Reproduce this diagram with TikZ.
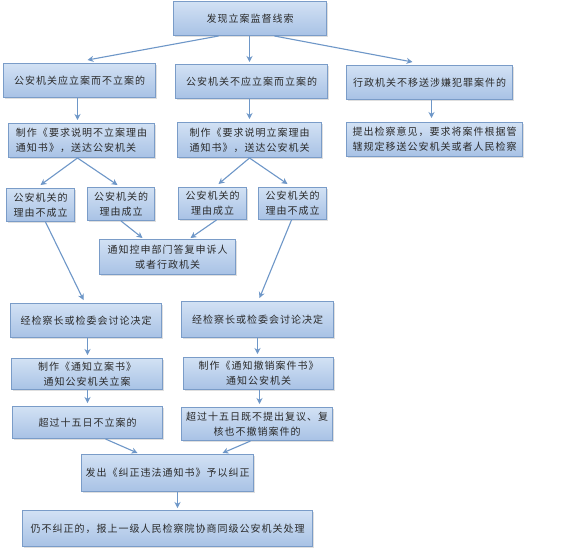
\documentclass[tikz,border=0pt]{standalone}
\usepackage{fontspec}
\newfontfamily\cjk[LetterSpace=10]{Noto Sans CJK SC}
\usetikzlibrary{shadows,arrows.meta,calc}
\definecolor{boxline}{HTML}{7A9CC8}
\definecolor{boxtop}{HTML}{D2E1F4}
\definecolor{boxbot}{HTML}{A8C2E5}
\definecolor{arr}{HTML}{6E97C8}
\definecolor{txt}{HTML}{2A2A2A}
\tikzset{
  box/.style={draw=boxline, line width=1pt, top color=boxtop, bottom color=boxbot,
    inner sep=0pt, anchor=north west, font=\cjk\fontsize{10}{15}\selectfont,
    text=txt, align=center,
    drop shadow={shadow xshift=1pt, shadow yshift=-1.2pt, opacity=0.25}},
  lbox/.style={box, align=left},
  conn/.style={draw=arr, line width=1.1pt, -{Stealth[length=6pt,width=6pt]}},
}
\begin{document}
\begin{tikzpicture}[x=1pt,y=-1pt]
\fill[white] (0,0) rectangle (585,547);
\useasboundingbox (0,0) rectangle (585,547);

\node[box, minimum width=153pt, minimum height=34pt] (top) at (173,1) {发现立案监督线索};

\node[box, minimum width=152pt, minimum height=34pt] (l2) at (3,63) {公安机关应立案而不立案的};
\node[box, minimum width=152pt, minimum height=34pt] (m2) at (175,64) {公安机关不应立案而立案的};
\node[box, minimum width=166pt, minimum height=34pt] (r2) at (346,65) {行政机关不移送涉嫌犯罪案件的};

\node[lbox, minimum width=146pt, minimum height=34pt] (l3) at (8,123) {制作《要求说明不立案理由\\通知书》，送达公安机关};
\node[lbox, minimum width=144pt, minimum height=35pt] (m3) at (177,122) {制作《要求说明立案理由\\通知书》，送达公安机关};
\node[lbox, minimum width=176pt, minimum height=34pt] (r3) at (346,122) {提出检察意见，要求将案件根据管\\辖规定移送公安机关或者人民检察};

\node[box, minimum width=68pt, minimum height=33pt] (A) at (6,188) {公安机关的\\理由不成立};
\node[box, minimum width=67pt, minimum height=33pt] (B) at (87,187) {公安机关的\\理由成立};
\node[box, minimum width=68pt, minimum height=32pt] (C) at (178,187) {公安机关的\\理由成立};
\node[box, minimum width=68pt, minimum height=32pt] (D) at (258,187) {公安机关的\\理由不成立};

\node[box, minimum width=136pt, minimum height=35pt] (E) at (99,239) {通知控申部门答复申诉人\\或者行政机关};

\node[box, minimum width=151pt, minimum height=34pt] (F) at (10,303) {经检察长或检委会讨论决定};
\node[box, minimum width=152pt, minimum height=36pt] (G) at (181,301) {经检察长或检委会讨论决定};

\node[box, minimum width=151pt, minimum height=31pt] (H) at (11,358) {制作《通知立案书》\\通知公安机关立案};
\node[box, minimum width=150pt, minimum height=32pt] (I) at (183,357) {制作《通知撤销案件书》\\通知公安机关};

\node[box, minimum width=150pt, minimum height=32pt] (J) at (12,406) {超过十五日不立案的};
\node[box, minimum width=151pt, minimum height=33pt] (K) at (181,407) {超过十五日既不提出复议、复\\核也不撤销案件的};

\node[box, minimum width=172pt, minimum height=37pt] (L) at (81,454) {发出《纠正违法通知书》予以纠正};
\node[box, minimum width=290pt, minimum height=36pt] (M) at (22,510) {仍不纠正的，报上一级人民检察院协商同级公安机关处理};

\draw[conn] ([xshift=-31.5pt]top.south) -- ([xshift=8pt,yshift=3pt]l2.north);
\draw[conn] ([xshift=-0.5pt]top.south) -- ([xshift=-2pt,yshift=2pt]m2.north);
\draw[conn] ([xshift=24.5pt]top.south) -- ([xshift=-17pt,yshift=3pt]r2.north);

\draw[conn] ([xshift=-2pt]l2.south) -- ([xshift=-4pt,yshift=3pt]l3.north);
\draw[conn] ([xshift=-2pt]m2.south) -- ([yshift=3pt]m3.north);
\draw[conn] ([xshift=2pt]r2.south) -- ([xshift=-3pt,yshift=4pt]r3.north);

\draw[conn] ([xshift=-4pt]l3.south) -- ([yshift=3pt]A.north);
\draw[conn] ([xshift=-4pt]l3.south) -- ([xshift=-3.5pt,yshift=2pt]B.north);
\draw[conn] (m3.south) -- ([xshift=6pt,yshift=3pt]C.north);
\draw[conn] (m3.south) -- ([xshift=-5pt,yshift=3pt]D.north);

\draw[conn] (B.south) -- ([xshift=-25pt,yshift=1pt]E.north);
\draw[conn] ([xshift=4pt]C.south) -- ([xshift=23pt,yshift=1pt]E.north);

\draw[conn] ([xshift=5pt]A.south) -- ([xshift=-2.5pt,yshift=3pt]F.north);
\draw[conn] ([xshift=-1pt]D.south) -- ([xshift=2pt,yshift=3pt]G.north);

\draw[conn] ([xshift=1.5pt]F.south) -- ([xshift=0.5pt,yshift=3pt]H.north);
\draw[conn] (G.south) -- ([xshift=-1pt,yshift=3pt]I.north);
\draw[conn] ([xshift=0.5pt]H.south) -- ([yshift=3pt]J.north);
\draw[conn] ([xshift=1pt]I.south) -- ([xshift=2.5pt,yshift=3pt]K.north);

\draw[conn] ([xshift=18pt]J.south) -- ([xshift=-30pt,yshift=1pt]L.north);
\draw[conn] ([xshift=-6.5pt]K.south) -- ([xshift=55pt,yshift=1pt]L.north);
\draw[conn] ([xshift=10pt]L.south) -- ([xshift=10pt,yshift=2pt]M.north);
\end{tikzpicture}
\end{document}
